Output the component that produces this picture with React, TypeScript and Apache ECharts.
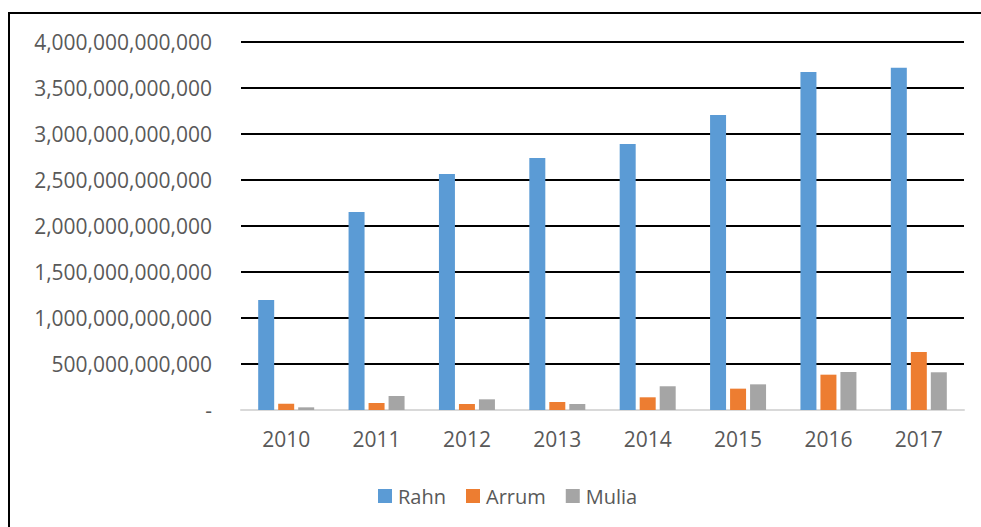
import React, { useEffect, useRef } from "react";
import * as echarts from "echarts";

const years = ["2010", "2011", "2012", "2013", "2014", "2015", "2016", "2017"];
const rahn = [1.196e12, 2.152e12, 2.565e12, 2.739e12, 2.891e12, 3.207e12, 3.674e12, 3.721e12];
const arrum = [68e9, 76e9, 65e9, 87e9, 138e9, 232e9, 384e9, 630e9];
const mulia = [29e9, 152e9, 116e9, 65e9, 258e9, 279e9, 413e9, 410e9];

const FONT = "Open Sans";

export default function App() {
  const ref = useRef<HTMLDivElement>(null);
  useEffect(() => {
    if (!ref.current) return;
    const chart = echarts.init(ref.current, null, { renderer: "svg" });
    chart.setOption({
      animation: false,
      backgroundColor: "#ffffff",
      textStyle: { fontFamily: FONT },
      grid: { left: 241, right: 17, top: 42, bottom: 117, containLabel: false },
      graphic: [
        {
          type: "rect",
          shape: { x: 9, y: 13, width: 1100, height: 700 },
          style: { fill: "none", stroke: "#000000", lineWidth: 2 },
          silent: true,
        },
      ],
      legend: {
        data: ["Rahn", "Arrum", "Mulia"],
        left: 373,
        top: 481,
        itemWidth: 14,
        itemHeight: 14,
        itemGap: 20,
        icon: "rect",
        textStyle: { fontFamily: FONT, fontSize: 20, color: "#595959", padding: [0, 0, 0, 1] },
      },
      xAxis: {
        type: "category",
        data: years,
        axisLine: { show: true, lineStyle: { color: "#D9D9D9", width: 2 } },
        axisTick: { show: false },
        axisLabel: { fontFamily: FONT, fontSize: 21, color: "#595959", margin: 18 },
      },
      yAxis: {
        type: "value",
        min: 0,
        max: 4e12,
        interval: 5e11,
        axisLine: { show: false },
        axisTick: { show: false },
        splitLine: { lineStyle: { color: "#000000", width: 2 } },
        axisLabel: {
          fontFamily: FONT,
          fontSize: 21,
          color: "#595959",
          margin: 29,
          formatter: (v: number) => (v === 0 ? "-" : v.toLocaleString("en-US")),
        },
      },
      series: [
        { name: "Rahn", type: "bar", data: rahn, itemStyle: { color: "#5B9BD5" }, barWidth: 16, barGap: "25%" },
        { name: "Arrum", type: "bar", data: arrum, itemStyle: { color: "#ED7D31" }, barWidth: 16, barGap: "25%" },
        { name: "Mulia", type: "bar", data: mulia, itemStyle: { color: "#A5A5A5" }, barWidth: 16, barGap: "25%" },
      ],
    });
    return () => chart.dispose();
  }, []);
  return (
    <div
      ref={ref}
      style={{ position: "fixed", left: 0, top: 0, width: 981, height: 527 }}
    />
  );
}
